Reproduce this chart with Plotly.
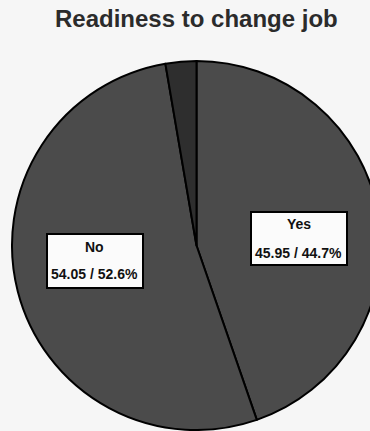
import plotly.graph_objects as go

# Survey answers: share of all respondents (%) and share of valid answers (%)
categories = ["Yes", "No", "No answer"]
share_all = [44.7, 52.6, 2.7]
share_valid = [45.95, 54.05, None]
slice_colors = ["#4b4b4b", "#4b4b4b", "#2e2e2e"]

W, H = 382, 431


def px(x):
    return x / W


def py(y):
    return 1 - y / H


fig = go.Figure(
    go.Pie(
        labels=categories,
        values=share_all,
        sort=False,
        direction="clockwise",
        rotation=0,
        textinfo="none",
        hoverinfo="label+value",
        marker=dict(colors=slice_colors, line=dict(color="#000000", width=2)),
        domain=dict(x=[px(12), px(381)], y=[py(430), py(61)]),
    )
)

# Boxed value labels for the two answered categories
boxes = {
    "Yes": dict(x0=251, x1=347, y0=212, y1=265, cx=298.5, ty1=223.5, ty2=252.5),
    "No": dict(x0=47, x1=143, y0=234, y1=288, cx=94, ty1=246.5, ty2=273.5),
}
shapes = []
annotations = []
for name, all_pct, valid_pct in zip(categories, share_all, share_valid):
    if name not in boxes:
        continue
    b = boxes[name]
    shapes.append(dict(
        type="rect", xref="paper", yref="paper",
        x0=px(b["x0"]), x1=px(b["x1"]), y0=py(b["y1"]), y1=py(b["y0"]),
        fillcolor="#fbfbfb", line=dict(color="#000000", width=2),
    ))
    label_font = dict(family="Liberation Sans, Arial, sans-serif", size=14, color="#111111")
    annotations.append(dict(
        text=f"<b>{name}</b>", xref="paper", yref="paper",
        x=px(b["cx"]), y=py(b["ty1"]), xanchor="center", yanchor="middle",
        showarrow=False, font=label_font,
    ))
    annotations.append(dict(
        text=f"<b>{valid_pct:.2f} / {all_pct}%</b>", xref="paper", yref="paper",
        x=px(b["cx"]), y=py(b["ty2"]), xanchor="center", yanchor="middle",
        showarrow=False, font=label_font,
    ))

annotations.append(dict(
    text="<b>Readiness to change job</b>", xref="paper", yref="paper",
    x=px(196), y=py(19), xanchor="center", yanchor="middle", showarrow=False,
    font=dict(family="Liberation Sans, Arial, sans-serif", size=24, color="#2b2b2b"),
))

fig.update_layout(
    width=W, height=H, autosize=False,
    margin=dict(l=0, r=0, t=0, b=0),
    paper_bgcolor="#f6f6f6", plot_bgcolor="#f6f6f6",
    showlegend=False,
    shapes=shapes, annotations=annotations,
)

fig.write_html(
    "out.html",
    post_script=(
        "document.documentElement.style.overflow='hidden';"
        "document.body.style.overflow='hidden';"
        "document.body.style.margin='0';"
    ),
)
